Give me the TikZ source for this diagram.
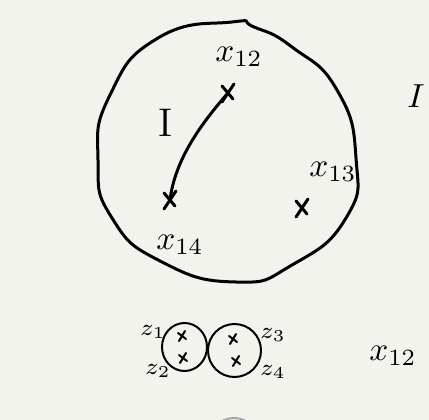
\documentclass[tikz,border=0pt]{standalone}
\begin{document}
\begin{tikzpicture}[x=0.3pt,y=-0.3pt,
  ink/.style={line width=0.9pt,line cap=round,line join=round},
  thin ink/.style={line width=0.6pt,line cap=round,line join=round},
  hand/.style={inner sep=0pt,font=\normalsize},
  small/.style={inner sep=0pt,font=\scriptsize}]
\definecolor{bgc}{HTML}{F3F3EE}
\fill[bgc] (0,0) rectangle (429,420);
\useasboundingbox (0,0) rectangle (429,420);
% big region
\draw[ink] plot[smooth cycle,tension=0.9] coordinates {
 (232,22) (254,27) (292,47) (337,90) (356,158) (346,218) (292,265)
 (236,282) (162,262) (112,218) (98,160) (110,95) (158,38)};
% points
\coordinate (p12) at (228,93);
\coordinate (p14) at (170,200);
\coordinate (p13) at (302,208);
\draw[ink] (p12) .. controls (200,125) and (175,160) .. (p14);
\foreach \c in {p12,p14,p13}{
  \draw[ink] ([shift={(-6,-7)}]\c) -- ([shift={(5,6)}]\c);
  \draw[ink] ([shift={(6,-9)}]\c) -- ([shift={(-6,9)}]\c);
}
\node[hand] (l12) at (239,57) {$x_{12}$};
\node[hand] (l13) at (333,172) {$x_{13}$};
\node[hand] (l14) at (180,245) {$x_{14}$};
\node[hand,font=\large] (lI) at (166,123) {I};
\node[inner sep=0pt] (I) at (416,96) {$I$};
% two small circles
\draw[thin ink] (184.5,347) ellipse [x radius=22.5,y radius=24];
\draw[thin ink] (234.5,350.5) ellipse [x radius=26.5,y radius=26.5];
\coordinate (z1c) at (182,336);
\coordinate (z2c) at (183,358);
\coordinate (z3c) at (233,339);
\coordinate (z4c) at (236,361);
\foreach \c in {z1c,z2c,z3c,z4c}{
  \draw[thin ink] ([shift={(-4,-3)}]\c) -- ([shift={(4,3)}]\c);
  \draw[thin ink] ([shift={(3,-5)}]\c) -- ([shift={(-3,5)}]\c);
}
\node[small] (z1) at (153,332) {$z_1$};
\node[small] (z2) at (158,371) {$z_2$};
\node[small] (z3) at (273,335) {$z_3$};
\node[small] (z4) at (273,372) {$z_4$};
\node[inner sep=0pt] (x12) at (393,356) {$x_{12}$};
% partial grey circle at bottom
\draw[line width=0.6pt,gray!70] (234,443) circle [radius=25];
\end{tikzpicture}
\end{document}
